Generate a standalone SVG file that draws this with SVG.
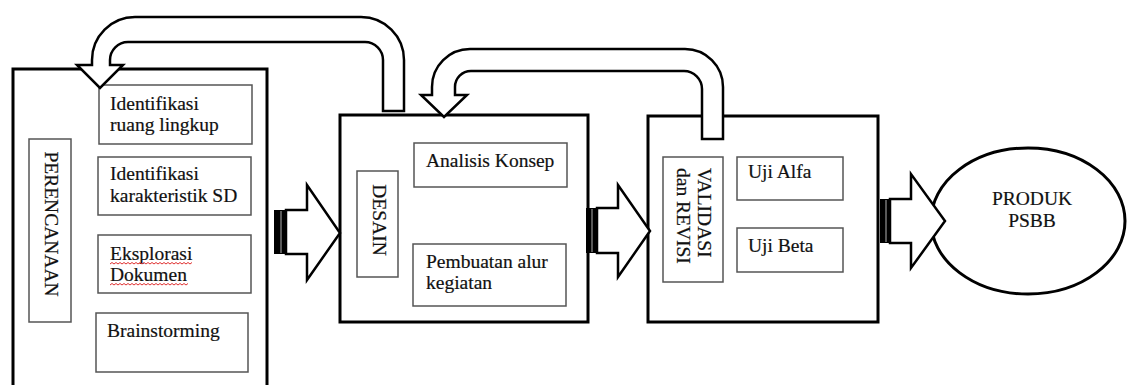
<svg xmlns="http://www.w3.org/2000/svg" width="1127" height="385" viewBox="0 0 1127 385">
<style>
.main{fill:#fff;stroke:#000;stroke-width:3}
.sub{fill:#fff;stroke:#555;stroke-width:1.5}
.t{font-family:"Liberation Serif","Times New Roman",serif;font-size:19.5px;fill:#111;stroke:#111;stroke-width:0.2}
.arrow{fill:#fff;stroke:#000;stroke-width:2.5;stroke-linejoin:miter}
.bar{fill:#000}
.stripe{stroke:#777;stroke-width:1.5}
.squig{fill:none;stroke:#e03030;stroke-width:1}
</style>
<rect width="1127" height="385" fill="#fff"/>
<g id="perencanaan">
  <rect class="main" x="13" y="69" width="254" height="330"/>
  <rect class="sub" x="29" y="139" width="42" height="183"/>
  <text class="t" text-anchor="middle" transform="translate(45,224) rotate(90)">PERENCANAAN</text>
  <g id="identifikasi-ruang">
    <rect class="sub" x="99" y="85" width="153" height="59"/>
    <text class="t" x="110" y="110">Identifikasi</text>
    <text class="t" x="110" y="131">ruang lingkup</text>
  </g>
  <g id="identifikasi-karakteristik">
    <rect class="sub" x="98" y="157" width="153" height="58"/>
    <text class="t" x="110" y="180">Identifikasi</text>
    <text class="t" x="110" y="202">karakteristik SD</text>
  </g>
  <g id="eksplorasi">
    <rect class="sub" x="98" y="235" width="153" height="58"/>
    <text class="t" x="110" y="260">Eksplorasi</text>
    <text class="t" x="110" y="281">Dokumen</text>
    <path class="squig" d="M110 264 l2 -1.5 l2 1.5 l2 -1.5 l2 1.5 l2 -1.5 l2 1.5 l2 -1.5 l2 1.5 l2 -1.5 l2 1.5 l2 -1.5 l2 1.5 l2 -1.5 l2 1.5 l2 -1.5 l2 1.5 l2 -1.5 l2 1.5 l2 -1.5 l2 1.5 l2 -1.5 l2 1.5 l2 -1.5 l2 1.5 l2 -1.5 l2 1.5 l2 -1.5 l2 1.5 l2 -1.5 l2 1.5 l2 -1.5 l2 1.5 l2 -1.5 l2 1.5 l2 -1.5 l2 1.5 l2 -1.5 l2 1.5 l2 -1.5 l2 1.5 l2 -1.5"/>
    <path class="squig" d="M110 285 l2 -1.5 l2 1.5 l2 -1.5 l2 1.5 l2 -1.5 l2 1.5 l2 -1.5 l2 1.5 l2 -1.5 l2 1.5 l2 -1.5 l2 1.5 l2 -1.5 l2 1.5 l2 -1.5 l2 1.5 l2 -1.5 l2 1.5 l2 -1.5 l2 1.5 l2 -1.5 l2 1.5 l2 -1.5 l2 1.5 l2 -1.5 l2 1.5 l2 -1.5 l2 1.5 l2 -1.5 l2 1.5 l2 -1.5 l2 1.5 l2 -1.5 l2 1.5 l2 -1.5 l2 1.5 l2 -1.5 l2 1.5 l2 -1.5"/>
  </g>
  <g id="brainstorming">
    <rect class="sub" x="96" y="313" width="152" height="59"/>
    <text class="t" x="107" y="337">Brainstorming</text>
  </g>
</g>
<g id="desain">
  <rect class="main" x="340" y="115" width="248" height="207"/>
  <rect class="sub" x="357" y="171" width="41" height="106"/>
  <text class="t" text-anchor="middle" transform="translate(373,220) rotate(90)">DESAIN</text>
  <g id="analisis-konsep">
    <rect class="sub" x="414" y="143" width="153" height="44"/>
    <text class="t" x="426" y="167">Analisis Konsep</text>
  </g>
  <g id="pembuatan-alur">
    <rect class="sub" x="413" y="244" width="153" height="62"/>
    <text class="t" x="426" y="268">Pembuatan alur</text>
    <text class="t" x="426" y="289">kegiatan</text>
  </g>
</g>
<g id="validasi">
  <rect class="main" x="648" y="116" width="230" height="206"/>
  <rect class="sub" x="663" y="157" width="60" height="125"/>
  <text class="t" transform="translate(698,168) rotate(90)">VALIDASI</text>
  <text class="t" transform="translate(677,168) rotate(90)">dan REVISI</text>
  <g id="uji-alfa">
    <rect class="sub" x="737" y="157" width="106" height="43"/>
    <text class="t" x="748" y="178">Uji Alfa</text>
  </g>
  <g id="uji-beta">
    <rect class="sub" x="737" y="228" width="106" height="44"/>
    <text class="t" x="748" y="252">Uji Beta</text>
  </g>
</g>
<g id="produk">
  <ellipse cx="1028" cy="221" rx="97" ry="73" fill="#fff" stroke="#000" stroke-width="3"/>
  <text class="t" x="1032" y="205" text-anchor="middle">PRODUK</text>
  <text class="t" x="1032" y="227" text-anchor="middle">PSBB</text>
</g>
<g id="connectors">
  <path class="arrow" d="M383 111 L383 60 A18 18 0 0 0 365 42 L128 42 A18 18 0 0 0 110 60 L110 65 L123 65 L100 88 L77 65 L92 65 L92 60 A43 43 0 0 1 135 17 L361 17 A43 43 0 0 1 404 60 L404 111 Z"/>
  <path class="arrow" d="M702 139 L702 89 A18 18 0 0 0 684 71 L471 71 A16 16 0 0 0 455 87 L455 95 L467 95 L444 117 L421 95 L432 95 L432 87 A38 38 0 0 1 470 49 L685 49 A38 38 0 0 1 723 87 L723 139 Z"/>
  <g>
    <path class="arrow" d="M286 210 L307 210 L307 185 L340 233 L307 280 L307 254 L286 254 Z"/>
    <rect class="bar" x="274" y="210" width="13" height="44"/>
    <line class="stripe" x1="281" y1="211" x2="281" y2="253"/>
  </g>
  <g>
    <path class="arrow" d="M597 208 L618 208 L618 185 L650 231 L618 277 L618 253 L597 253 Z"/>
    <rect class="bar" x="586" y="208" width="11" height="45"/>
    <line class="stripe" x1="592" y1="209" x2="592" y2="252"/>
  </g>
  <g>
    <path class="arrow" d="M890 199 L911 199 L911 174 L945 221 L911 268 L911 243 L890 243 Z"/>
    <rect class="bar" x="880" y="199" width="10" height="44"/>
    <line class="stripe" x1="886" y1="200" x2="886" y2="242"/>
  </g>
</g>
</svg>
